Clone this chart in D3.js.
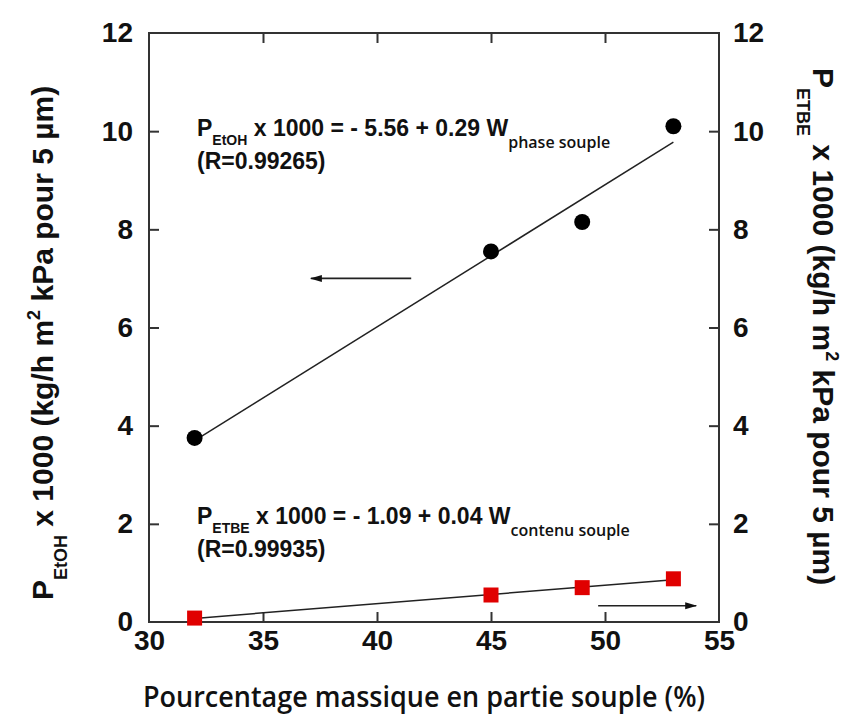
<!DOCTYPE html>
<html>
<head>
<meta charset="utf-8">
<script src="https://cdn.jsdelivr.net/npm/d3@7"></script>
<style>
  body { margin: 0; background: #fff; }
  svg { display: block; }
</style>
</head>
<body>
<div id="chart"></div>
<script>
// data
var xTicks = [30, 35, 40, 45, 50, 55];
var yTicks = [0, 2, 4, 6, 8, 10, 12];
var wEtOH = [32, 45, 49, 53];
var pEtOH = [3.75, 7.55, 8.15, 10.1];
var wETBE = [32, 45, 49, 53];
var pETBE = [0.08, 0.55, 0.7, 0.88];

var width = 845, height = 715;
var plotL = 149, plotR = 719, plotT = 33, plotB = 622;
var tickFont = "'Liberation Sans', Arial, sans-serif";

var svg = d3.select('#chart').append('svg')
  .attr('width', width).attr('height', height)
  .attr('viewBox', [0, 0, width, height]);

var x = d3.scaleLinear().domain([30, 55]).range([plotL, plotR]);
var y = d3.scaleLinear().domain([0, 12]).range([plotB, plotT]);
var y2 = d3.scaleLinear().domain([0, 12]).range([plotB, plotT]);

// least squares fit of each series
function fit(xs, ys) {
  var mx = d3.mean(xs), my = d3.mean(ys);
  var sxy = d3.sum(xs, (v, i) => (v - mx) * (ys[i] - my));
  var sxx = d3.sum(xs, v => (v - mx) * (v - mx));
  var b = sxy / sxx;
  return { a: my - b * mx, b: b };
}

// frame
svg.append('rect')
  .attr('x', plotL).attr('y', plotT)
  .attr('width', plotR - plotL).attr('height', plotB - plotT)
  .attr('fill', 'none').attr('stroke', '#333').attr('stroke-width', 2);

// ticks (inward)
function styleAxis(g) {
  g.select('.domain').remove();
  g.selectAll('.tick line').attr('stroke', '#333').attr('stroke-width', 2);
  g.selectAll('.tick text').attr('fill', '#111')
    .style('font-family', tickFont).style('font-weight', 'bold').style('font-size', '28px');
}

svg.append('g').attr('transform', 'translate(0,' + plotB + ')')
  .call(d3.axisBottom(x).tickValues(xTicks).tickSize(-10).tickPadding(8).tickFormat(d3.format('d')))
  .call(styleAxis);
svg.append('g').attr('transform', 'translate(0,' + plotT + ')')
  .call(d3.axisTop(x).tickValues(xTicks).tickSize(-10).tickFormat(''))
  .call(styleAxis);
svg.append('g').attr('transform', 'translate(' + plotL + ',0)')
  .call(d3.axisLeft(y).tickValues(yTicks).tickSize(-10).tickPadding(16).tickFormat(d3.format('d')))
  .call(styleAxis);
svg.append('g').attr('transform', 'translate(' + plotR + ',0)')
  .call(d3.axisRight(y2).tickValues(yTicks).tickSize(-10).tickPadding(14).tickFormat(d3.format('d')))
  .call(styleAxis);

// remove the end ticks that sit on the frame
svg.selectAll('.tick line').filter(d => d === 30 || d === 55 || d === 0 || d === 12).remove();

// fit lines
var f1 = fit(wEtOH, pEtOH);
var f2 = fit(wETBE, pETBE);
var line = d3.line().x(d => x(d[0])).y(d => d[1]);
var x1 = d3.extent(wEtOH), x2 = d3.extent(wETBE);
svg.append('path')
  .attr('d', line(x1.map(v => [v, y(f1.a + f1.b * v)])))
  .attr('stroke', '#222').attr('stroke-width', 1.5).attr('fill', 'none');
svg.append('path')
  .attr('d', line(x2.map(v => [v, y2(f2.a + f2.b * v)])))
  .attr('stroke', '#222').attr('stroke-width', 1.5).attr('fill', 'none');

// markers
svg.selectAll('circle.etoh').data(wEtOH).enter().append('circle')
  .attr('cx', d => x(d)).attr('cy', (d, i) => y(pEtOH[i]))
  .attr('r', 8).attr('fill', '#000');
svg.selectAll('rect.etbe').data(wETBE).enter().append('rect')
  .attr('x', d => x(d) - 7.5).attr('y', (d, i) => y2(pETBE[i]) - 7.5)
  .attr('width', 15).attr('height', 15).attr('fill', '#e00000');

// arrows
var defs = svg.append('defs');
defs.append('marker').attr('id', 'ah').attr('viewBox', '0 0 12 8')
  .attr('refX', 11).attr('refY', 4).attr('markerWidth', 12).attr('markerHeight', 8)
  .attr('orient', 'auto').attr('markerUnits', 'userSpaceOnUse')
  .append('path').attr('d', 'M0,0.5 L12,4 L0,7.5 Z').attr('fill', '#111');
svg.append('line')
  .attr('x1', x(41.5)).attr('x2', x(37.1)).attr('y1', y(7)).attr('y2', y(7))
  .attr('stroke', '#222').attr('stroke-width', 1.6).attr('marker-end', 'url(#ah)');
svg.append('line')
  .attr('x1', x(49.7)).attr('x2', x(54)).attr('y1', y2(0.33)).attr('y2', y2(0.33))
  .attr('stroke', '#222').attr('stroke-width', 1.6).attr('marker-end', 'url(#ah)');

// equations
function equation(px, py, sub, rest, sub2, r) {
  var t = svg.append('text').attr('x', px).attr('y', py)
    .style('font-family', tickFont).style('font-weight', 'bold').style('font-size', '23px')
    .attr('fill', '#111');
  t.append('tspan').text('P');
  t.append('tspan').attr('dy', 9).style('font-size', '14px').text(sub);
  t.append('tspan').attr('dy', -9).text(' ' + rest);
  t.append('tspan').attr('dy', 12).style('font-size', '16px')
    .style('font-family', "'Open Sans', sans-serif").style('font-weight', 600).text(sub2);
  svg.append('text').attr('x', px).attr('y', py + 33)
    .style('font-family', tickFont).style('font-weight', 'bold').style('font-size', '23px')
    .attr('fill', '#111').text(r);
}
equation(197, 136, 'EtOH', 'x 1000 = - 5.56 + 0.29 W', 'phase souple', '(R=0.99265)');
equation(197, 524, 'ETBE', 'x 1000 = - 1.09 + 0.04 W', 'contenu souple', '(R=0.99935)');

// axis titles
function yTitle(tr, sub, sh) {
  var t = svg.append('text')
    .attr('transform', tr)
    .style('font-family', tickFont).style('font-weight', 'bold').style('font-size', '30px')
    .attr('fill', '#111');
  t.append('tspan').text('P');
  t.append('tspan').attr('dy', sh).style('font-size', '18px').text(sub);
  t.append('tspan').attr('dy', -sh).text(' x 1000 (kg/h m');
  t.append('tspan').attr('dy', -13).style('font-size', '18px').text('2');
  t.append('tspan').attr('dy', 13).text(' kPa pour 5 µm)');
}
yTitle('translate(53,600) rotate(-90)', 'EtOH', 14);
yTitle('translate(813,68) rotate(90)', 'ETBE', 16);

svg.append('text')
  .attr('x', 143).attr('y', 707)
  .attr('textLength', 562).attr('lengthAdjust', 'spacingAndGlyphs')
  .style('font-family', "'Open Sans', sans-serif").style('font-weight', 600).style('font-size', '28px')
  .attr('fill', '#111')
  .text('Pourcentage massique en partie souple (%)');
</script>
</body>
</html>
